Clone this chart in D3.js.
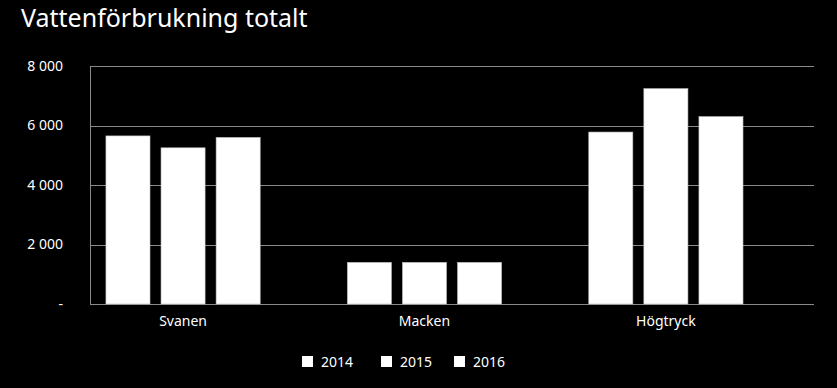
<!DOCTYPE html>
<html>
<head>
<meta charset="utf-8">
<script src="https://cdn.jsdelivr.net/npm/d3@7"></script>
<style>
  body { margin: 0; background: #000; }
  text { font-family: "Noto Sans", "Open Sans", sans-serif; fill: #fff; }
</style>
</head>
<body>
<script>
// Data
const categories = ["Svanen", "Macken", "Högtryck"];
const years = ["2014", "2015", "2016"];
const values2014 = [5650, 1400, 5780];
const values2015 = [5250, 1400, 7240];
const values2016 = [5600, 1400, 6300];
const yTicks = [0, 2000, 4000, 6000, 8000];

const series = [values2014, values2015, values2016];

const width = 837, height = 388;
const margin = { top: 66, right: 23, bottom: 84, left: 90 };

const svg = d3.select("body").append("svg")
    .attr("width", width)
    .attr("height", height);

// Title
svg.append("text")
    .attr("x", 21)
    .attr("y", 27)
    .style("font-size", "25px")
    .text("Vattenförbrukning totalt");

const x0 = d3.scaleBand()
    .domain(categories)
    .range([margin.left, width - margin.right])
    .paddingInner(0.133)
    .paddingOuter(0.066);

// room for a fourth (empty) slot in each group, like the original
const x1 = d3.scaleBand()
    .domain(years)
    .range([0, x0.bandwidth() * 0.737])
    .paddingInner(0.2);

const y = d3.scaleLinear()
    .domain([0, 8000])
    .range([height - margin.bottom, margin.top]);

const fmt = d => d === 0 ? "-" : d3.format(",")(d).replace(",", " ");

// Gridlines
svg.append("g")
    .selectAll("line")
    .data(yTicks)
    .join("line")
    .attr("x1", margin.left)
    .attr("x2", width - margin.right)
    .attr("y1", d => Math.round(y(d)) + 0.5)
    .attr("y2", d => Math.round(y(d)) + 0.5)
    .attr("stroke", "#8a8a8a")
    .attr("stroke-width", 1);

// Left border
svg.append("line")
    .attr("x1", margin.left + 0.5)
    .attr("x2", margin.left + 0.5)
    .attr("y1", y(8000))
    .attr("y2", y(0))
    .attr("stroke", "#8a8a8a");

// Y labels
svg.append("g")
    .selectAll("text")
    .data(yTicks)
    .join("text")
    .attr("x", 63)
    .attr("y", d => y(d))
    .attr("dy", "0.35em")
    .attr("text-anchor", "end")
    .style("font-size", "14px")
    .text(fmt);

// Bars
const groups = svg.append("g")
    .selectAll("g")
    .data(categories)
    .join("g")
    .attr("transform", d => `translate(${x0(d)},0)`);

groups.selectAll("rect")
    .data((d, i) => years.map((yr, j) => ({ year: yr, value: series[j][i] })))
    .join("rect")
    .attr("x", d => x1(d.year))
    .attr("y", d => y(d.value))
    .attr("width", x1.bandwidth())
    .attr("height", d => y(0) - y(d.value))
    .attr("fill", "#fff")
    .attr("stroke", "#bbb")
    .attr("stroke-width", 0.6);

// Category labels
svg.append("g")
    .selectAll("text")
    .data(categories)
    .join("text")
    .attr("x", d => x0(d) + x1.range()[1] / 2)
    .attr("y", 326)
    .attr("text-anchor", "middle")
    .style("font-size", "14px")
    .text(d => d);

// Legend
const legendX = [302, 381, 454];
const legend = svg.append("g")
    .selectAll("g")
    .data(years)
    .join("g")
    .attr("transform", (d, i) => `translate(${legendX[i]},356)`);

legend.append("rect")
    .attr("width", 11)
    .attr("height", 11)
    .attr("fill", "#fff");

legend.append("text")
    .attr("x", 19)
    .attr("y", 10.5)
    .style("font-size", "14px")
    .text(d => d);
</script>
</body>
</html>
